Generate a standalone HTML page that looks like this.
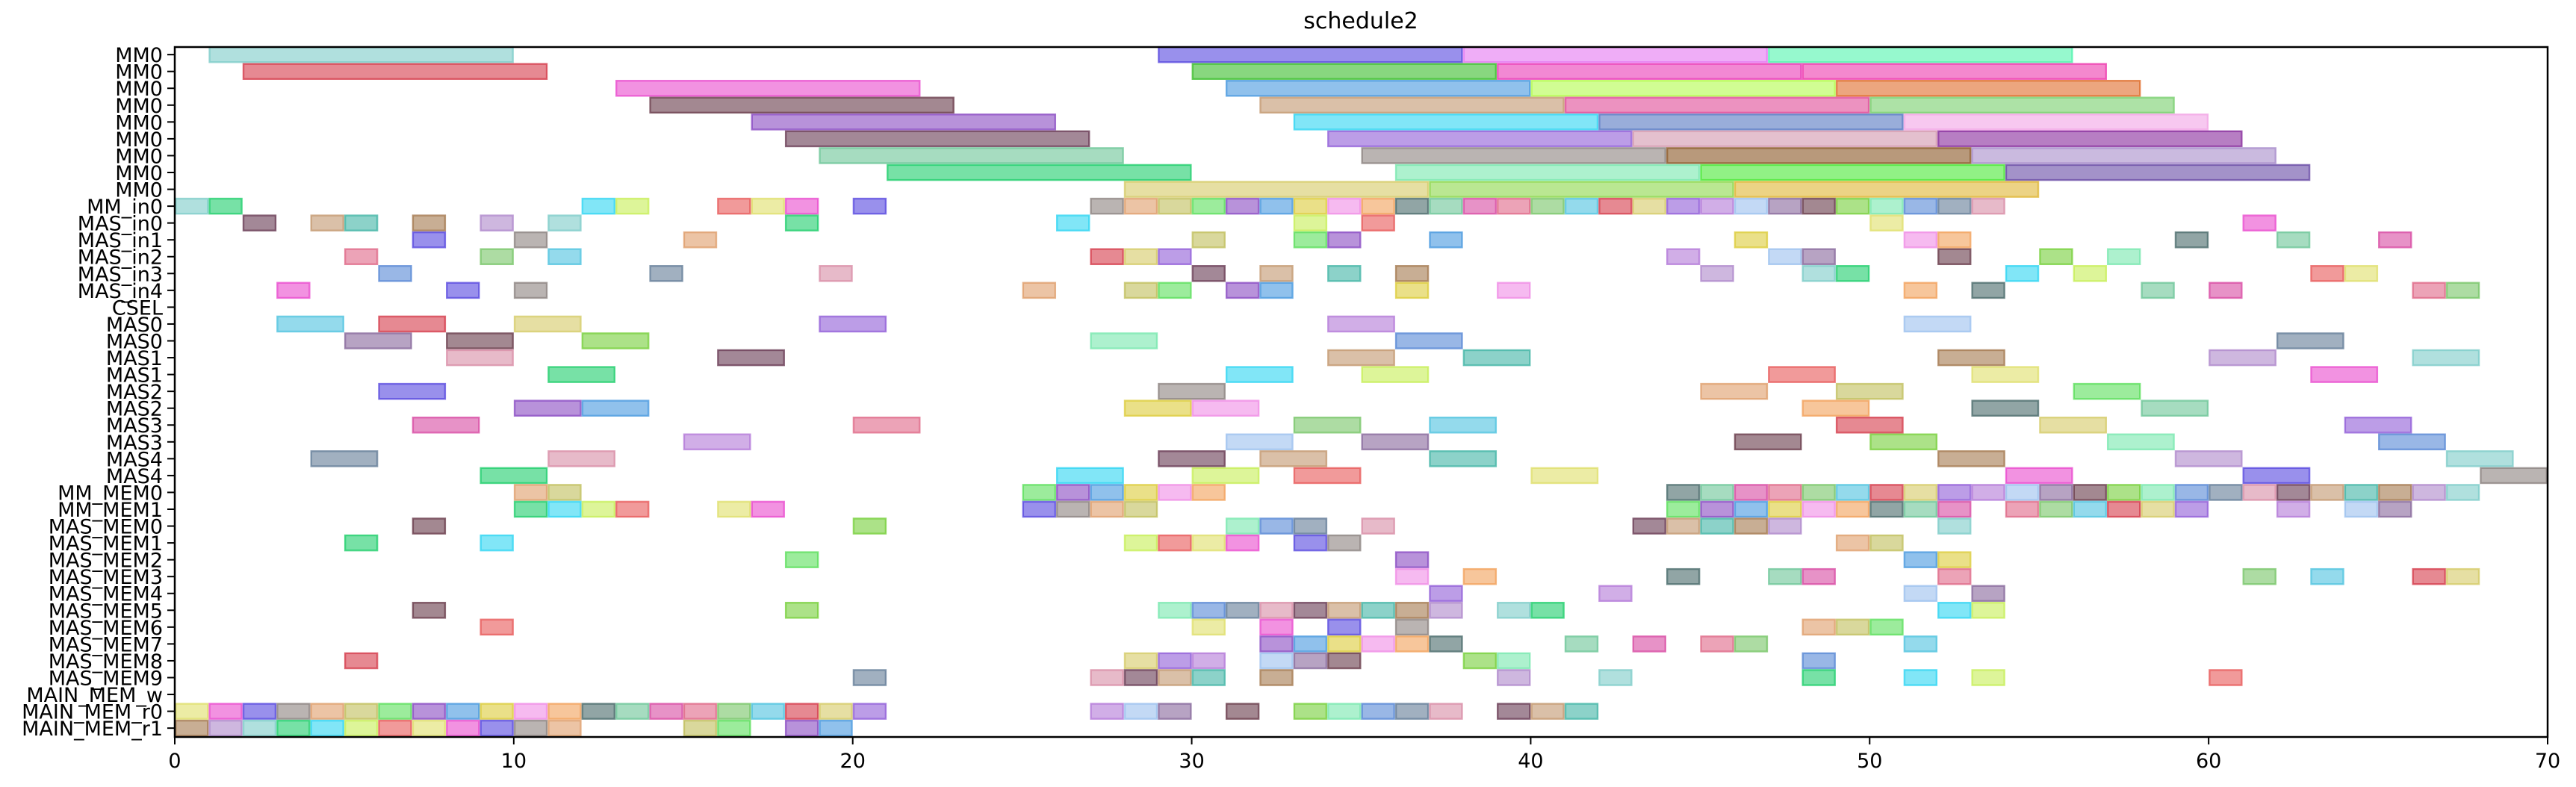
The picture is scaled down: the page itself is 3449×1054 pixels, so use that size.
<!DOCTYPE html>
<html><head><meta charset="utf-8">
<style>
html,body{margin:0;padding:0;background:#fff;}
svg{display:block;font-family:"DejaVu Sans","Liberation Sans",sans-serif;}
</style></head>
<body>
<svg id="chart" width="3449" height="1054" viewBox="0 0 3449 1054" xmlns="http://www.w3.org/2000/svg">
<text x="1822" y="38" font-size="30" text-anchor="middle">schedule2</text>
<g id="bars"></g>
<g id="yaxis"></g>
<g id="xaxis"></g>
<rect x="234" y="63" width="3177" height="924" fill="none" stroke="#000" stroke-width="2.5"/>
</svg>
<script>
const rowLabels = ["MM0","MM0","MM0","MM0","MM0","MM0","MM0","MM0","MM0","MM_in0","MAS_in0","MAS_in1","MAS_in2","MAS_in3","MAS_in4","CSEL","MAS0","MAS0","MAS1","MAS1","MAS2","MAS2","MAS3","MAS3","MAS4","MAS4","MM_MEM0","MM_MEM1","MAS_MEM0","MAS_MEM1","MAS_MEM2","MAS_MEM3","MAS_MEM4","MAS_MEM5","MAS_MEM6","MAS_MEM7","MAS_MEM8","MAS_MEM9","MAIN_MEM_w","MAIN_MEM_r0","MAIN_MEM_r1"];
const rowDur = [9,9,9,9,9,9,9,9,9,1,1,1,1,1,1,1,2,2,2,2,2,2,2,2,2,2,1,1,1,1,1,1,1,1,1,1,1,1,1,1,1];
function span(a,b){const r=[];for(let i=a;i<=b;i++)r.push(i);return r;}
const rowStarts = [
 [1,29,38,47],[2,30,39,48],[13,31,40,49],[14,32,41,50],[17,33,42,51],[18,34,43,52],[19,35,44,53],[21,36,45,54],[28,37,46],
 [0,1,12,13,16,17,18,20].concat(span(27,53)),
 [2,4,5,7,9,11,18,26,33,35,50,61],
 [7,10,15,30,33,34,37,46,51,52,59,62,65],
 [5,9,11,27,28,29,44,47,48,52,55,57],
 [6,14,19,30,32,34,36,45,48,49,54,56,63,64],
 [3,8,10,25,28,29,31,32,36,39,51,53,58,60,66,67],
 [],
 [3,6,10,19,34,51],[5,8,12,27,36,62],[8,16,34,38,52,60,66],[11,31,35,47,53,63],[6,29,45,49,56],[10,12,28,30,48,53,58],
 [7,20,33,37,49,55,64],[15,31,35,46,50,57,65],[4,11,29,32,37,52,59,67],[9,26,30,33,40,54,61,68],
 [10,11].concat(span(25,30),span(44,67)),
 [10,11,12,13,16,17,25,26,27,28].concat(span(44,52),span(54,59),[62,64,65]),
 [7,20,31,32,33,35,43,44,45,46,47,52],
 [5,9,28,29,30,31,33,34,49,50],
 [18,36,51,52],
 [36,38,44,47,48,52,61,63,66,67],
 [37,42,51,53],
 [7,18,29,30,31,32,33,34,35,36,37,39,40,52,53],
 [9,30,32,34,36,48,49,50],
 [32,33,34,35,36,37,41,43,45,46,51],
 [5,28,29,30,32,33,34,38,39,48],
 [20,27,28,29,30,32,39,42,48,51,53,60],
 [],
 span(0,20).concat([27,28,29,31],span(33,37),[39,40,41]),
 span(0,11).concat([15,16,18,19])
];
const xTicks = [0,10,20,30,40,50,60,70];
const palette = ["#7fcdc9","#d6404f","#ea4fcf","#6b3f4d","#8c4fc4","#6b3f57","#6fc79a","#24cf6f","#d6cc6a","#5b4ce0","#79d13f","#4c9be0","#c49a72","#d94fa5","#33d6f2","#9361d9","#8f8683","#7be8b0","#ddcd3f","#46b6a8","#e06b8a","#c8ef5a","#b57cd9","#e0a06e","#5a8ad6","#f08fe6","#a67c52","#7ac76b","#e85c5c","#9ec2ef","#c2c060","#67809a","#f2a35e","#b08acc","#52c4e0","#e0e06e","#8a6b9e","#5fe05f","#d98fa8","#4e6e6e"];
const big = ["#7fcdc9","#5b4ce0","#e57af2","#55f5b0","#d6404f","#3fbf30","#ea3fb8","#ee3fb0","#ea4fcf","#4c9be0","#b5fb50","#e07030","#6b3f4d","#c49a72","#e04f9a","#7ad070","#8c4fc4","#33d6f2","#5a7bc4","#f2a6e6","#6b3f57","#9361d9","#d49ab0","#8a2f9e","#6fc79a","#8f8683","#8c5a2a","#a98fcc","#24cf6f","#7be8b0","#4ee83a","#6b4fa8","#d6cc6a","#8fd84f","#e0b83a"];
const X0=234, X1=3411, XMAX=70, Y0=63, ROWH=22.55;
function xs(v){return X0+(X1-X0)*v/XMAX;}
function ys(r){return Y0+(r+0.45)*ROWH;}
const NS="http://www.w3.org/2000/svg";
const gb=document.getElementById('bars');
let ci=0, bi=0;
rowStarts.forEach((starts,r)=>{
  starts.forEach(s=>{
    const d=rowDur[r];
    const col = r<9 ? big[bi++ % big.length] : palette[(ci++*7)%palette.length];
    const rect=document.createElementNS(NS,'rect');
    
    
    rect.setAttribute('x',xs(s)+1.2);
    rect.setAttribute('y',ys(r)-ROWH/2+1.2);
    rect.setAttribute('width',xs(s+d)-xs(s)-2.4);
    rect.setAttribute('height',ROWH-2.4);
    rect.setAttribute('fill',col);
    rect.setAttribute('fill-opacity','0.62');
    rect.setAttribute('stroke',col);
    rect.setAttribute('stroke-opacity','0.8');
    rect.setAttribute('stroke-width','2.4');
    gb.appendChild(rect);
  });
});
const gy=document.getElementById('yaxis');
rowLabels.forEach((lab,r)=>{
  const y=ys(r);
  const t=document.createElementNS(NS,'line');
  
  
  t.setAttribute('x1',X0-10);t.setAttribute('x2',X0);t.setAttribute('y1',y);t.setAttribute('y2',y);
  t.setAttribute('stroke','#000');t.setAttribute('stroke-width','2');
  gy.appendChild(t);
  const tx=document.createElementNS(NS,'text');
  
  
  tx.setAttribute('x',X0-16);tx.setAttribute('y',y+10);
  tx.setAttribute('font-size','27');tx.setAttribute('text-anchor','end');
  tx.textContent=lab;
  gy.appendChild(tx);
});
const gx=document.getElementById('xaxis');
xTicks.forEach(v=>{
  const x=xs(v);
  const t=document.createElementNS(NS,'line');
  
  
  t.setAttribute('x1',x);t.setAttribute('x2',x);t.setAttribute('y1',987);t.setAttribute('y2',997);
  t.setAttribute('stroke','#000');t.setAttribute('stroke-width','2');
  gx.appendChild(t);
  const tx=document.createElementNS(NS,'text');
  
  
  tx.setAttribute('x',x);tx.setAttribute('y',1028);
  tx.setAttribute('font-size','27');tx.setAttribute('text-anchor','middle');
  tx.textContent=String(v);
  gx.appendChild(tx);
});
</script>
</body></html>
